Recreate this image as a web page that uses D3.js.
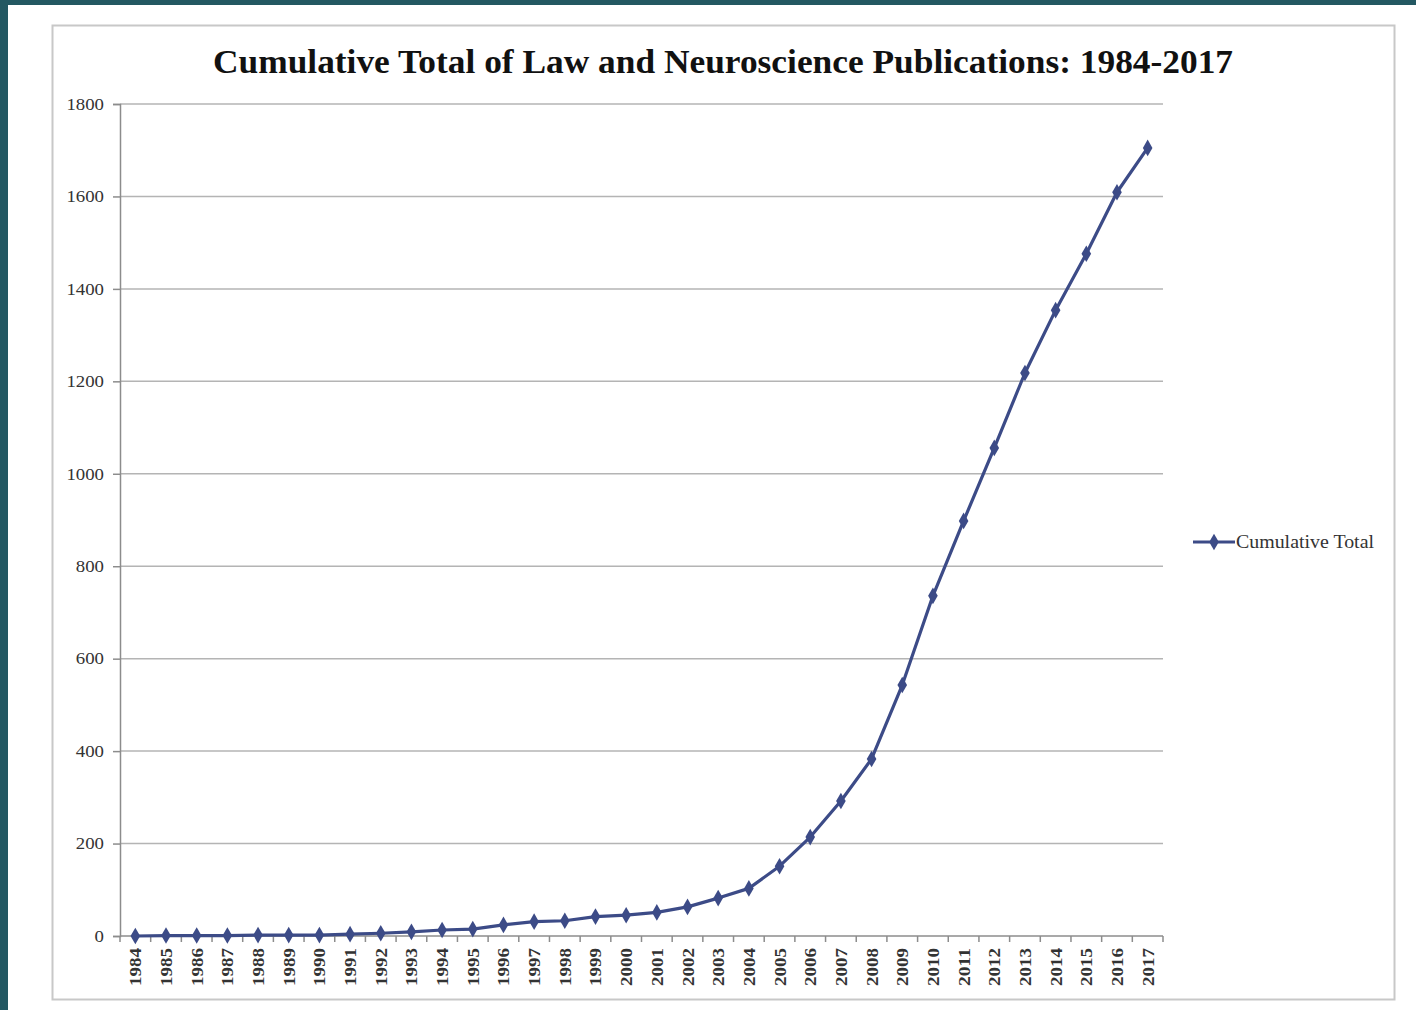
<!DOCTYPE html>
<html>
<head>
<meta charset="utf-8">
<script src="https://cdn.jsdelivr.net/npm/d3@7"></script>
<style>
  html, body { margin: 0; padding: 0; background: #235862; }
  svg { display: block; }
</style>
</head>
<body>
<svg id="chart" width="1416" height="1010"></svg>
<script>
// Years on the category axis
const years = [1984,1985,1986,1987,1988,1989,1990,1991,1992,1993,1994,1995,1996,1997,1998,1999,2000,
  2001,2002,2003,2004,2005,2006,2007,2008,2009,2010,2011,2012,2013,2014,2015,2016,2017];
// Cumulative number of publications per year
const cumulativeTotal = [0,1,1,1,2,2,2,4,6,9,13,15,24,31,33,42,45,
  51,63,82,103,151,214,292,383,543,736,898,1056,1218,1354,1476,1609,1705];
const yTicks = [0,200,400,600,800,1000,1200,1400,1600,1800];
const seriesName = "Cumulative Total";
const titleText = "Cumulative Total of Law and Neuroscience Publications: 1984-2017";

const svg = d3.select("#chart");
const serif = "'Liberation Serif', 'Times New Roman', serif";
const lineColor = "#3c4b87";

// page background and chart frame
svg.append("rect").attr("x", 8).attr("y", 5).attr("width", 1408).attr("height", 1005).attr("fill", "#ffffff");
svg.append("rect").attr("x", 52.5).attr("y", 25.5).attr("width", 1342).attr("height", 974)
  .attr("fill", "#ffffff").attr("stroke", "#c8c8c8").attr("stroke-width", 2);

const plot = { left: 120, right: 1163, top: 104, bottom: 936 };

const x = d3.scaleBand().domain(years).range([plot.left, plot.right]).paddingInner(0).paddingOuter(0);
const y = d3.scaleLinear().domain([0, 1800]).range([plot.bottom, plot.top]);

// horizontal gridlines
svg.append("g").selectAll("line").data(yTicks.filter(d => d > 0)).join("line")
  .attr("x1", plot.left).attr("x2", plot.right)
  .attr("y1", d => y(d)).attr("y2", d => y(d))
  .attr("stroke", "#b4b4b4").attr("stroke-width", 1.5);

// y axis
const yAxis = svg.append("g").attr("transform", `translate(${plot.left},0)`)
  .call(d3.axisLeft(y).tickValues(yTicks).tickFormat(d3.format("d")).tickSize(7).tickPadding(9));
yAxis.select(".domain").attr("stroke", "#8c8c8c").attr("stroke-width", 1.5);
yAxis.selectAll(".tick line").attr("stroke", "#8c8c8c").attr("stroke-width", 1.5);
yAxis.selectAll("text").attr("font-family", serif).attr("font-size", 16.5).attr("fill", "#333")
  .attr("textLength", d => String(d).length * 9.4).attr("lengthAdjust", "spacingAndGlyphs");

// x axis: ticks sit on category boundaries, labels rotated
const xg = svg.append("g").attr("transform", `translate(0,${plot.bottom})`);
xg.append("line").attr("x1", plot.left).attr("x2", plot.right).attr("y1", 0).attr("y2", 0)
  .attr("stroke", "#8c8c8c").attr("stroke-width", 1.5);
const bounds = years.map(d => x(d)).concat([plot.right]);
xg.selectAll("line.tk").data(bounds).join("line").attr("class", "tk")
  .attr("x1", d => d).attr("x2", d => d).attr("y1", 0).attr("y2", 6)
  .attr("stroke", "#8c8c8c").attr("stroke-width", 1.5);
xg.selectAll("text").data(years).join("text")
  .attr("transform", d => `translate(${x(d) + x.bandwidth() / 2 + 6},${12}) rotate(-90)`)
  .attr("text-anchor", "end")
  .attr("font-family", serif).attr("font-size", 17).attr("font-weight", "bold").attr("fill", "#333")
  .attr("textLength", 38).attr("lengthAdjust", "spacingAndGlyphs")
  .text(d => d);

// series line and diamond markers
const pts = years.map((d, i) => [x(d) + x.bandwidth() / 2, y(cumulativeTotal[i])]);
svg.append("path").datum(pts)
  .attr("d", d3.line())
  .attr("fill", "none").attr("stroke", lineColor).attr("stroke-width", 3.2)
  .attr("stroke-linejoin", "round");
const diamond = d3.symbol().type(d3.symbolDiamond).size(80);
svg.append("g").selectAll("path").data(pts).join("path")
  .attr("transform", d => `translate(${d[0]},${d[1]})`)
  .attr("d", diamond).attr("fill", lineColor);

// title
svg.append("text").attr("x", 723).attr("y", 73).attr("text-anchor", "middle")
  .attr("font-family", serif).attr("font-weight", "bold").attr("font-size", 34).attr("fill", "#111")
  .attr("textLength", 1020).attr("lengthAdjust", "spacingAndGlyphs")
  .text(titleText);

// legend
const lg = svg.append("g").attr("transform", "translate(1193,542)");
lg.append("line").attr("x1", 0).attr("x2", 42).attr("y1", 0).attr("y2", 0)
  .attr("stroke", lineColor).attr("stroke-width", 3.2);
lg.append("path").attr("transform", "translate(21,0)").attr("d", diamond).attr("fill", lineColor);
lg.append("text").attr("x", 43).attr("y", 6)
  .attr("font-family", serif).attr("font-size", 19).attr("fill", "#333")
  .attr("textLength", 138).attr("lengthAdjust", "spacingAndGlyphs")
  .text(seriesName);
</script>
</body>
</html>
